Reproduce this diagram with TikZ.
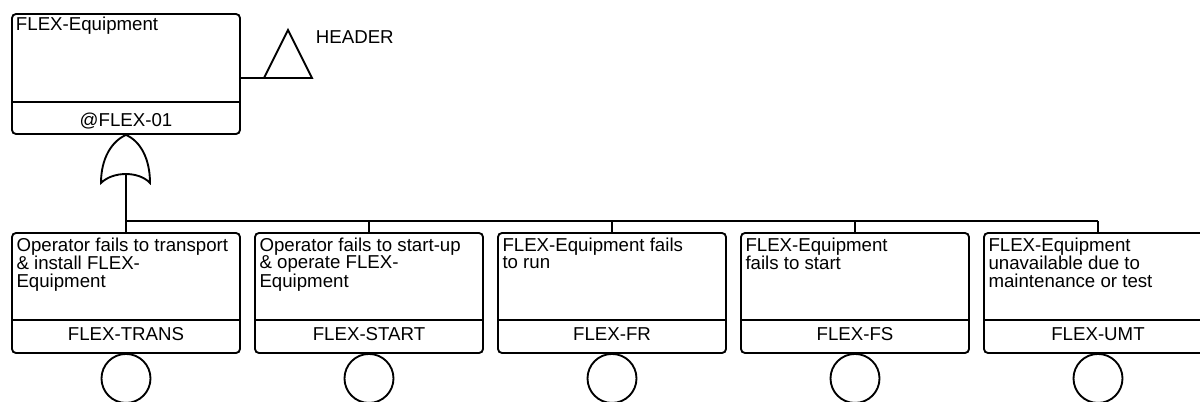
\documentclass[tikz,border=0pt]{standalone}
\usepackage{fontspec}
\setmainfont{Liberation Sans}
\usetikzlibrary{calc}
\begin{document}
\begin{tikzpicture}[x=0.75pt,y=-0.75pt,
  line width=1.4pt,
  ebox/.style={draw, rectangle, rounded corners=3pt, minimum width=171pt, minimum height=90pt, inner sep=0},
  txt/.style={inner sep=0, font=\fontsize{14}{13}\selectfont},
  basic/.style={draw, circle, minimum size=36.75pt, inner sep=0}]
\useasboundingbox (0,0) rectangle (1200,401);
\clip (0,0) rectangle (1200,401);
% top event
\node[ebox] (t) at (126,74) {};
\draw ($(t.south west)+(0,-33)$) -- ($(t.south east)+(0,-33)$);
\node[txt, anchor=base west] (tt) at ($(t.north west)+(4,17.5)$) {FLEX-Equipment};
\node[txt, anchor=base] (tc) at ($(t.south)+(0,-8)$) {@FLEX-01};
% header triangle
\coordinate (trl) at (264,78);
\coordinate (trr) at (312,78);
\coordinate (tra) at (288,30);
\draw (t.east |- trl) -- (trl);
\draw[line join=miter] (trl) -- (tra) -- (trr) -- cycle;
\node[txt, anchor=base west] (hd) at (315,43) {HEADER};
% OR gate
\coordinate (gl) at (101,183);
\coordinate (gr) at (150,183);
\coordinate (gout) at (126,174);
\draw (gl) .. controls (101,158) and (112,141) .. (t.south) .. controls (140,141) and (150,158) .. (gr) .. controls (139,171) and (113,171) .. (gl) -- cycle;
% basic event boxes
\node[ebox] (b1) at (126,293) {};
\node[ebox] (b2) at (369,293) {};
\node[ebox] (b3) at (612,293) {};
\node[ebox] (b4) at (855,293) {};
\node[ebox] (b5) at (1098,293) {};
\foreach \i in {1,...,5}{
  \draw ($(b\i.south west)+(0,-34)$) -- ($(b\i.south east)+(0,-34)$);
  \node[basic] (c\i) at ($(b\i.south)+(0,24.5)$) {};
}
\node[txt, anchor=base west] (d1) at ($(b1.north west)+(4.5,19)$) {\parbox[t]{165pt}{\raggedright Operator fails to transport\\ \& install FLEX-\\ Equipment}};
\node[txt, anchor=base west] (d2) at ($(b2.north west)+(4.5,19)$) {\parbox[t]{165pt}{\raggedright Operator fails to start-up\\ \& operate FLEX-\\ Equipment}};
\node[txt, anchor=base west] (d3) at ($(b3.north west)+(4.5,19)$) {\parbox[t]{165pt}{\raggedright FLEX-Equipment fails\\ to run}};
\node[txt, anchor=base west] (d4) at ($(b4.north west)+(4.5,19)$) {\parbox[t]{165pt}{\raggedright FLEX-Equipment\\ fails to start}};
\node[txt, anchor=base west] (d5) at ($(b5.north west)+(4.5,19)$) {\parbox[t]{165pt}{\raggedright FLEX-Equipment\\ unavailable due to\\ maintenance or test}};
\node[txt, anchor=base] (l1) at ($(b1.south)+(0,-13)$) {FLEX-TRANS};
\node[txt, anchor=base] (l2) at ($(b2.south)+(0,-13)$) {FLEX-START};
\node[txt, anchor=base] (l3) at ($(b3.south)+(0,-13)$) {FLEX-FR};
\node[txt, anchor=base] (l4) at ($(b4.south)+(0,-13)$) {FLEX-FS};
\node[txt, anchor=base] (l5) at ($(b5.south)+(0,-13)$) {FLEX-UMT};
% connectors
\coordinate (bus) at (126,221);
\draw (gout) -- (bus);
\draw (bus) -- (b5.north |- bus);
\foreach \i in {1,...,5}{
  \draw (b\i.north) -- (b\i.north |- bus);
}
\end{tikzpicture}
\end{document}
